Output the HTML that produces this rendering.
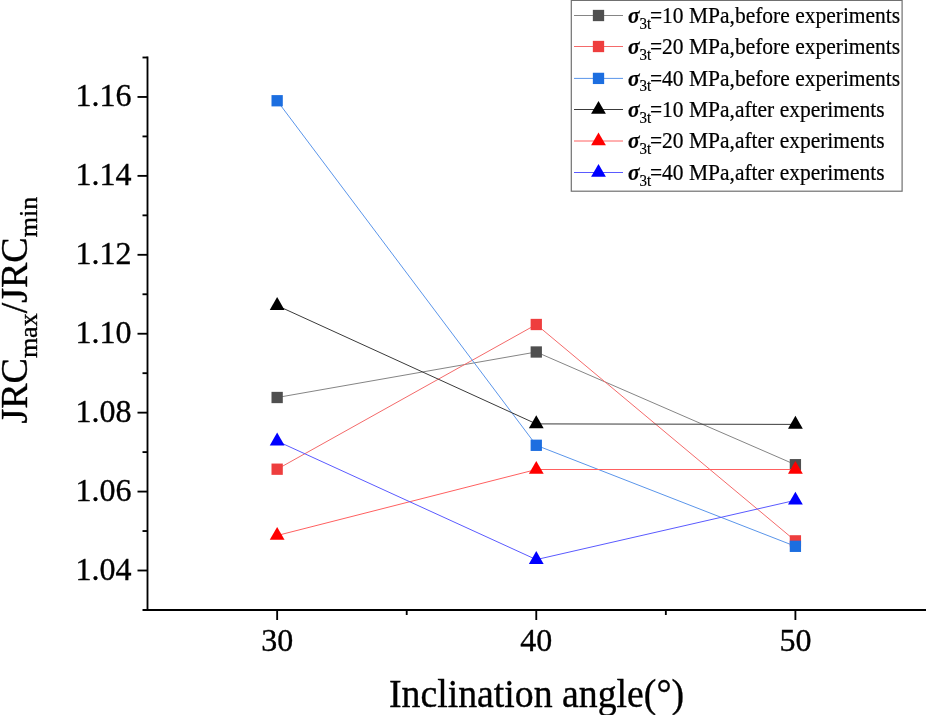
<!DOCTYPE html>
<html><head><meta charset="utf-8"><style>
html,body{margin:0;padding:0;background:#fff;}
svg{display:block;will-change:transform;font-family:"Liberation Serif",serif;}
.tk{font-size:32px;fill:#000;stroke:#000;stroke-width:0.35px;}
.xl{font-size:38px;fill:#000;stroke:#000;stroke-width:0.35px;}
.yl{font-size:38px;fill:#000;stroke:#000;stroke-width:0.35px;}
.sub{font-size:26px;}
.lg{font-size:21.5px;fill:#000;stroke:#000;stroke-width:0.2px;}
.sig{font-weight:bold;font-style:italic;}
.lsub{font-size:15px;}
</style></head><body>
<svg width="926" height="715" viewBox="0 0 926 715">
<rect width="926" height="715" fill="#fff"/>
<line x1="147.5" y1="56.6" x2="147.5" y2="611.0" stroke="#000" stroke-width="1.85"/>
<line x1="142.5" y1="610.0" x2="926" y2="610.0" stroke="#000" stroke-width="1.85"/>
<line x1="137.5" y1="570.50" x2="147.5" y2="570.50" stroke="#000" stroke-width="1.85"/>
<text x="131.5" y="579.50" text-anchor="end" class="tk">1.04</text>
<line x1="142.5" y1="531.04" x2="147.5" y2="531.04" stroke="#000" stroke-width="1.85"/>
<line x1="137.5" y1="491.58" x2="147.5" y2="491.58" stroke="#000" stroke-width="1.85"/>
<text x="131.5" y="500.58" text-anchor="end" class="tk">1.06</text>
<line x1="142.5" y1="452.11" x2="147.5" y2="452.11" stroke="#000" stroke-width="1.85"/>
<line x1="137.5" y1="412.65" x2="147.5" y2="412.65" stroke="#000" stroke-width="1.85"/>
<text x="131.5" y="421.65" text-anchor="end" class="tk">1.08</text>
<line x1="142.5" y1="373.19" x2="147.5" y2="373.19" stroke="#000" stroke-width="1.85"/>
<line x1="137.5" y1="333.73" x2="147.5" y2="333.73" stroke="#000" stroke-width="1.85"/>
<text x="131.5" y="342.73" text-anchor="end" class="tk">1.10</text>
<line x1="142.5" y1="294.27" x2="147.5" y2="294.27" stroke="#000" stroke-width="1.85"/>
<line x1="137.5" y1="254.81" x2="147.5" y2="254.81" stroke="#000" stroke-width="1.85"/>
<text x="131.5" y="263.81" text-anchor="end" class="tk">1.12</text>
<line x1="142.5" y1="215.35" x2="147.5" y2="215.35" stroke="#000" stroke-width="1.85"/>
<line x1="137.5" y1="175.88" x2="147.5" y2="175.88" stroke="#000" stroke-width="1.85"/>
<text x="131.5" y="184.88" text-anchor="end" class="tk">1.14</text>
<line x1="142.5" y1="136.42" x2="147.5" y2="136.42" stroke="#000" stroke-width="1.85"/>
<line x1="137.5" y1="96.96" x2="147.5" y2="96.96" stroke="#000" stroke-width="1.85"/>
<text x="131.5" y="105.96" text-anchor="end" class="tk">1.16</text>
<line x1="142.5" y1="57.50" x2="147.5" y2="57.50" stroke="#000" stroke-width="1.85"/>
<line x1="277.15" y1="610.0" x2="277.15" y2="620.0" stroke="#000" stroke-width="1.85"/>
<text x="277.15" y="651" text-anchor="middle" class="tk">30</text>
<line x1="406.71" y1="610.0" x2="406.71" y2="615.0" stroke="#000" stroke-width="1.85"/>
<line x1="536.27" y1="610.0" x2="536.27" y2="620.0" stroke="#000" stroke-width="1.85"/>
<text x="536.27" y="651" text-anchor="middle" class="tk">40</text>
<line x1="665.84" y1="610.0" x2="665.84" y2="615.0" stroke="#000" stroke-width="1.85"/>
<line x1="795.40" y1="610.0" x2="795.40" y2="620.0" stroke="#000" stroke-width="1.85"/>
<text x="795.40" y="651" text-anchor="middle" class="tk">50</text>
<polyline points="277.15,397.50 536.27,352.00 795.40,464.70" fill="none" stroke="#858585" stroke-width="1"/>
<rect x="271.50" y="391.85" width="11.3" height="11.3" fill="#4f4f4f"/>
<rect x="530.62" y="346.35" width="11.3" height="11.3" fill="#4f4f4f"/>
<rect x="789.75" y="459.05" width="11.3" height="11.3" fill="#4f4f4f"/>
<polyline points="277.15,469.20 536.27,324.50 795.40,540.86" fill="none" stroke="#f46a6a" stroke-width="1"/>
<rect x="271.50" y="463.55" width="11.3" height="11.3" fill="#ee3e3e"/>
<rect x="530.62" y="318.85" width="11.3" height="11.3" fill="#ee3e3e"/>
<rect x="789.75" y="535.21" width="11.3" height="11.3" fill="#ee3e3e"/>
<polyline points="277.15,100.75 536.27,445.29 795.40,546.31" fill="none" stroke="#5a95ea" stroke-width="1"/>
<rect x="271.50" y="95.10" width="11.3" height="11.3" fill="#1c6ee0"/>
<rect x="530.62" y="439.64" width="11.3" height="11.3" fill="#1c6ee0"/>
<rect x="789.75" y="540.66" width="11.3" height="11.3" fill="#1c6ee0"/>
<polyline points="277.15,305.59 536.27,423.90 795.40,424.40" fill="none" stroke="#3a3a3a" stroke-width="1"/>
<polygon points="277.15,296.99 284.55,309.89 269.75,309.89" fill="#000000"/>
<polygon points="536.27,415.30 543.67,428.20 528.88,428.20" fill="#000000"/>
<polygon points="795.40,415.80 802.80,428.70 788.00,428.70" fill="#000000"/>
<polyline points="277.15,535.50 536.27,469.50 795.40,469.50" fill="none" stroke="#ff6060" stroke-width="1"/>
<polygon points="277.15,526.90 284.55,539.80 269.75,539.80" fill="#ff0000"/>
<polygon points="536.27,460.90 543.67,473.80 528.88,473.80" fill="#ff0000"/>
<polygon points="795.40,460.90 802.80,473.80 788.00,473.80" fill="#ff0000"/>
<polyline points="277.15,441.11 536.27,559.61 795.40,500.30" fill="none" stroke="#5a5aff" stroke-width="1"/>
<polygon points="277.15,432.51 284.55,445.41 269.75,445.41" fill="#0000ff"/>
<polygon points="536.27,551.01 543.67,563.91 528.88,563.91" fill="#0000ff"/>
<polygon points="795.40,491.70 802.80,504.60 788.00,504.60" fill="#0000ff"/>
<g transform="translate(389,707) scale(0.994,1.03)"><text x="0" y="0" class="xl">Inclination angle(°)</text></g>
<text transform="translate(27,423.6) rotate(-90)" class="yl">JRC<tspan class="sub" dy="10">max</tspan><tspan dy="-10">/JRC</tspan><tspan class="sub" dy="10">min</tspan></text>
<rect x="571.3" y="0.4" width="330.80000000000007" height="190.79999999999998" fill="#fff" stroke="#707070" stroke-width="1.2"/>
<line x1="574" y1="15.50" x2="623" y2="15.50" stroke="#858585" stroke-width="1"/>
<rect x="592.85" y="9.85" width="11.3" height="11.3" fill="#4f4f4f"/>
<g transform="translate(628,22.70) scale(1,1.06)"><text x="0" y="0" class="lg"><tspan class="sig">σ</tspan><tspan class="lsub" dy="5.5">3t</tspan><tspan dy="-5.5" x="22">=10 MPa,before experiments</tspan></text></g>
<line x1="574" y1="46.50" x2="623" y2="46.50" stroke="#f46a6a" stroke-width="1"/>
<rect x="592.85" y="40.85" width="11.3" height="11.3" fill="#ee3e3e"/>
<g transform="translate(628,53.70) scale(1,1.06)"><text x="0" y="0" class="lg"><tspan class="sig">σ</tspan><tspan class="lsub" dy="5.5">3t</tspan><tspan dy="-5.5" x="22">=20 MPa,before experiments</tspan></text></g>
<line x1="574" y1="78.40" x2="623" y2="78.40" stroke="#5a95ea" stroke-width="1"/>
<rect x="592.85" y="72.75" width="11.3" height="11.3" fill="#1c6ee0"/>
<g transform="translate(628,85.60) scale(1,1.06)"><text x="0" y="0" class="lg"><tspan class="sig">σ</tspan><tspan class="lsub" dy="5.5">3t</tspan><tspan dy="-5.5" x="22">=40 MPa,before experiments</tspan></text></g>
<line x1="574" y1="109.50" x2="623" y2="109.50" stroke="#3a3a3a" stroke-width="1"/>
<polygon points="598.50,100.90 605.90,113.80 591.10,113.80" fill="#000000"/>
<g transform="translate(628,116.70) scale(1,1.06)"><text x="0" y="0" class="lg"><tspan class="sig">σ</tspan><tspan class="lsub" dy="5.5">3t</tspan><tspan dy="-5.5" x="22">=10 MPa,after experiments</tspan></text></g>
<line x1="574" y1="141.00" x2="623" y2="141.00" stroke="#ff6060" stroke-width="1"/>
<polygon points="598.50,132.40 605.90,145.30 591.10,145.30" fill="#ff0000"/>
<g transform="translate(628,148.20) scale(1,1.06)"><text x="0" y="0" class="lg"><tspan class="sig">σ</tspan><tspan class="lsub" dy="5.5">3t</tspan><tspan dy="-5.5" x="22">=20 MPa,after experiments</tspan></text></g>
<line x1="574" y1="172.50" x2="623" y2="172.50" stroke="#5a5aff" stroke-width="1"/>
<polygon points="598.50,163.90 605.90,176.80 591.10,176.80" fill="#0000ff"/>
<g transform="translate(628,179.70) scale(1,1.06)"><text x="0" y="0" class="lg"><tspan class="sig">σ</tspan><tspan class="lsub" dy="5.5">3t</tspan><tspan dy="-5.5" x="22">=40 MPa,after experiments</tspan></text></g>
</svg>
</body></html>
